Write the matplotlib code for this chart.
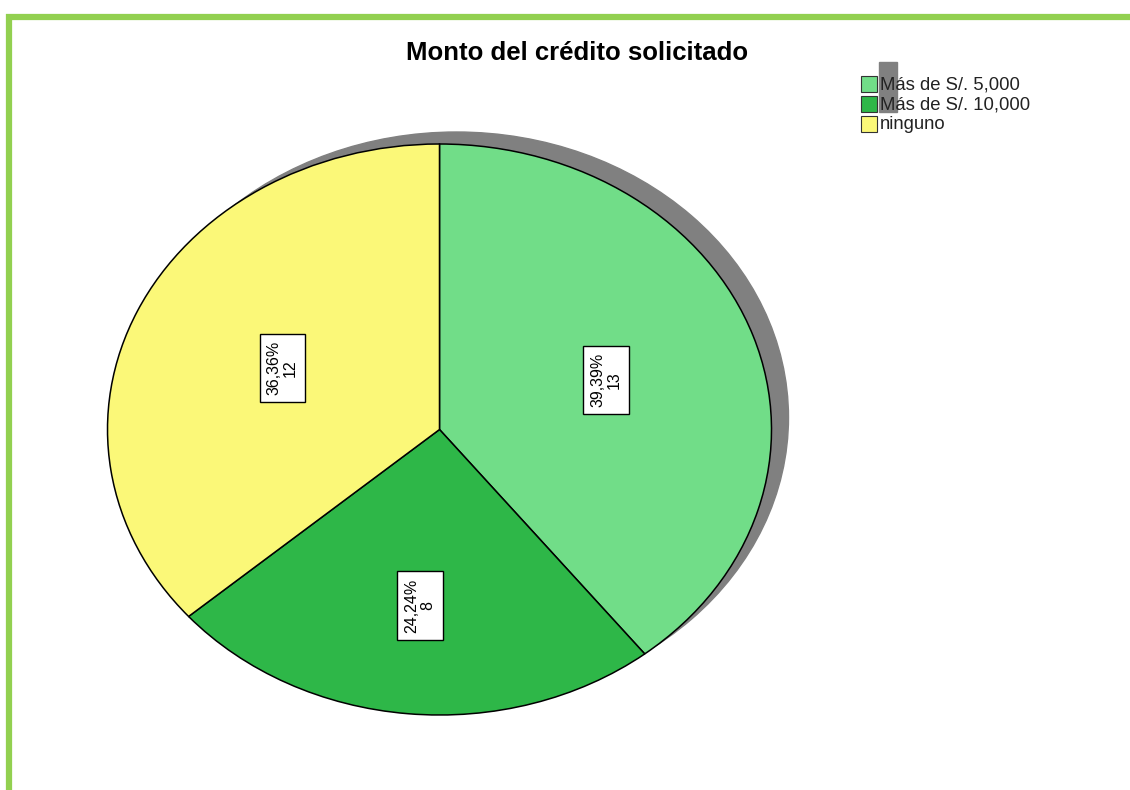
import numpy as np
import matplotlib.pyplot as plt
from matplotlib.patches import Ellipse, Rectangle

# datos del grafico
categorias = ['Más de S/. 5,000', 'Más de S/. 10,000', 'ninguno']
frecuencias = [13, 8, 12]
colores = ['#71DD88', '#2EB748', '#FBF878']
titulo = 'Monto del crédito solicitado'

plt.rcParams['font.family'] = ['Liberation Sans', 'DejaVu Sans']

W, H = 1130, 790
fig = plt.figure(figsize=(W / 100, H / 100), dpi=100)

# capa de fondo en coordenadas de pixel
ax_bg = fig.add_axes([0, 0, 1, 1])
ax_bg.set_xlim(0, W)
ax_bg.set_ylim(H, 0)
ax_bg.axis('off')

# marco verde
ax_bg.plot([6, W], [17, 17], color='#92D050', lw=4.5, solid_capstyle='butt')
ax_bg.plot([9, 9], [14, H], color='#92D050', lw=4.5, solid_capstyle='butt')

# elipse del pastel (pixeles)
cx, cy, rx, ry = 439.5, 429.5, 332, 285.5

# sombra
ax_bg.add_patch(Ellipse((cx + 17, cy - 12), 2 * rx, 2 * ry, color='#808080', zorder=1))

ax_bg.text(577, 53, titulo, ha='center', va='center', fontsize=18.5, fontweight='bold')

# leyenda
ax_bg.add_patch(Rectangle((879, 62), 18, 50, color='#808080', zorder=1))
for i, (cat, col) in enumerate(zip(categorias, colores)):
    y0 = 76 + i * 20
    ax_bg.add_patch(Rectangle((861, y0), 16, 16, facecolor=col, edgecolor='#333333', lw=0.8, zorder=3))
    ax_bg.text(880, y0 + 8.5, cat, ha='left', va='center', fontsize=13.3, color='#222222', zorder=4)

# pastel
ax = fig.add_axes([(cx - rx) / W, (H - cy - ry) / H, 2 * rx / W, 2 * ry / H])
ax.patch.set_alpha(0)
wedges, _ = ax.pie(frecuencias, colors=colores, startangle=90, counterclock=False,
                   radius=1, wedgeprops=dict(edgecolor='black', linewidth=1.1))
ax.set_aspect('auto')
ax.set_xlim(-1, 1)
ax.set_ylim(-1, 1)
ax.axis('off')

total = sum(frecuencias)
label_r = [0.53, 0.62, 0.52]
for w, n, r in zip(wedges, frecuencias, label_r):
    ang = np.deg2rad((w.theta1 + w.theta2) / 2)
    pct = f"{100 * n / total:.2f}%".replace('.', ',')
    ax.text(r * np.cos(ang), r * np.sin(ang), f"{pct}\n{n}", rotation=90,
            ha='center', va='center', multialignment='center', fontsize=11.5,
            linespacing=1.1,
            bbox=dict(boxstyle='square,pad=0.45', fc='white', ec='black', lw=1))

fig.savefig('out.png', dpi=100)
